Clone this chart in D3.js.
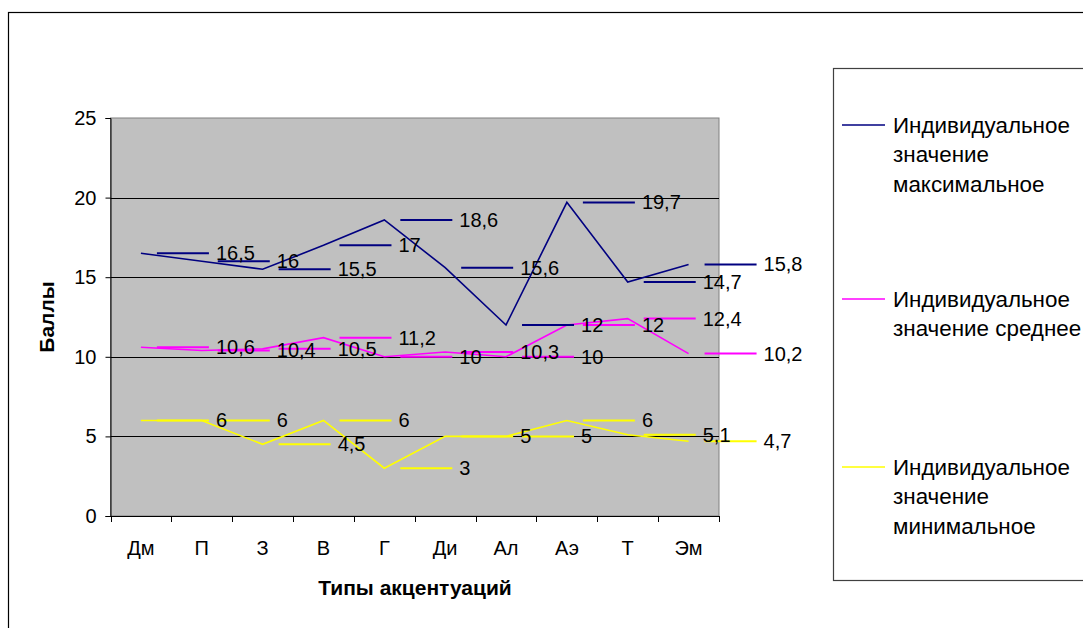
<!DOCTYPE html>
<html><head><meta charset="utf-8">
<script src="https://cdn.jsdelivr.net/npm/d3@7"></script>
<style>
html,body{margin:0;padding:0;background:#fff;}
svg{display:block;font-family:"Liberation Sans",Arial,sans-serif;}
</style></head>
<body>
<svg id="chart" width="1083" height="628"></svg>
<script>
const categories = ["Дм","П","З","В","Г","Ди","Ал","Аэ","Т","Эм"];
const maxValues  = [16.5,16,15.5,17,18.6,15.6,12,19.7,14.7,15.8];
const meanValues = [10.6,10.4,10.5,11.2,10,10.3,10,12,12.4,10.2];
const minValues  = [6,6,4.5,6,3,5,5,6,5.1,4.7];
const yTicks = [0,5,10,15,20,25];
const seriesNames = [
  ["Индивидуальное","значение","максимальное"],
  ["Индивидуальное","значение среднее"],
  ["Индивидуальное","значение","минимальное"]
];
const seriesColors = ["#000080","#FF00FF","#FFFF00"];
const xTitle = "Типы акцентуаций";
const yTitle = "Баллы";

(function(){
const series = [maxValues, meanValues, minValues];

const svg = d3.select("#chart");
const pL = 110.5, pR = 719, pT = 118, pB = 516;
const x = d3.scaleBand().domain(categories).range([pL, pR]);
const y = d3.scaleLinear().domain([0,25]).range([pB, pT]);
const cx = c => x(c) + x.bandwidth()/2;

// outer chart border
svg.append("rect").attr("x",8.5).attr("y",12.5).attr("width",1200).attr("height",800)
  .attr("fill","#fff").attr("stroke","#000").attr("stroke-width",1.2);

// plot area
svg.append("rect").attr("x",pL).attr("y",pT).attr("width",pR-pL).attr("height",pB-pT)
  .attr("fill","#C0C0C0").attr("stroke","#808080").attr("stroke-width",1);

// gridlines
svg.append("g").selectAll("line").data(yTicks.filter(t=>t>0 && t<25)).join("line")
  .attr("x1",pL).attr("x2",pR)
  .attr("y1",d=>Math.round(y(d))+0.5).attr("y2",d=>Math.round(y(d))+0.5)
  .attr("stroke","#000").attr("stroke-width",1);

// y axis
const yAxis = d3.axisLeft(y).tickValues(yTicks).tickSize(5).tickPadding(9);
const gy = svg.append("g").attr("transform",`translate(${pL},0)`).call(yAxis);
gy.select(".domain").attr("stroke","#000");
gy.selectAll(".tick line").attr("stroke","#000");
gy.selectAll("text").attr("font-size","20px").attr("fill","#000")
  .attr("font-family","Liberation Sans, Arial, sans-serif");

// x axis (ticks at category boundaries)
const gx = svg.append("g").attr("transform",`translate(0,${pB})`);
gx.append("line").attr("x1",pL).attr("x2",pR).attr("y1",0.5).attr("y2",0.5).attr("stroke","#000");
const bounds = categories.map(c=>x(c)).concat([pR]);
gx.selectAll("line.tk").data(bounds).join("line").attr("class","tk")
  .attr("x1",d=>Math.round(d)+0.5).attr("x2",d=>Math.round(d)+0.5).attr("y1",0).attr("y2",6)
  .attr("stroke","#000");
gx.selectAll("text").data(categories).join("text")
  .attr("x",d=>cx(d)).attr("y",32).attr("dy","0.35em")
  .attr("text-anchor","middle").attr("font-size","20px").text(d=>d);

// axis titles
svg.append("text").attr("x",415).attr("y",588).attr("dy","0.35em").attr("text-anchor","middle")
  .attr("font-size","21px").attr("font-weight","bold").text(xTitle);
svg.append("text").attr("transform","translate(47,317) rotate(-90)").attr("dy","0.35em")
  .attr("text-anchor","middle").attr("font-size","21px").attr("font-weight","bold").text(yTitle);

// lines
const line = d3.line().x((d,i)=>cx(categories[i])).y(d=>y(d));
series.forEach((vals,si)=>{
  svg.append("path").datum(vals).attr("d",line).attr("fill","none")
    .attr("stroke",seriesColors[si]).attr("stroke-width",1.6);
});

// data labels with leader lines
const fmt = v => String(v).replace(".",",");
series.forEach((vals,si)=>{
  const g = svg.append("g");
  vals.forEach((v,i)=>{
    const px = cx(categories[i]), py = y(v);
    g.append("line").attr("x1",px+16).attr("x2",px+68).attr("y1",py).attr("y2",py)
      .attr("stroke",seriesColors[si]).attr("stroke-width",2);
  });
});
series.forEach((vals,si)=>{
  const g = svg.append("g");
  vals.forEach((v,i)=>{
    const px = cx(categories[i]), py = y(v);
    g.append("text").attr("x",px+75).attr("y",py).attr("dy","0.35em")
      .attr("font-size","20px").attr("fill","#000").text(fmt(v));
  });
});

// legend
svg.append("rect").attr("x",833.5).attr("y",68.5).attr("width",400).attr("height",512)
  .attr("fill","#fff").attr("stroke","#404040").attr("stroke-width",1.2);
const legendY = [125, 299, 467];
seriesNames.forEach((lines,si)=>{
  const g = svg.append("g");
  g.append("line").attr("x1",842).attr("x2",885).attr("y1",legendY[si]).attr("y2",legendY[si])
    .attr("stroke",seriesColors[si]).attr("stroke-width",1.6);
  lines.forEach((t,li)=>{
    g.append("text").attr("x",893).attr("y",legendY[si]+li*29.5).attr("dy","0.35em")
      .attr("font-size","22.4px").attr("fill","#000").text(t);
  });
});
})();
</script>
</body></html>
